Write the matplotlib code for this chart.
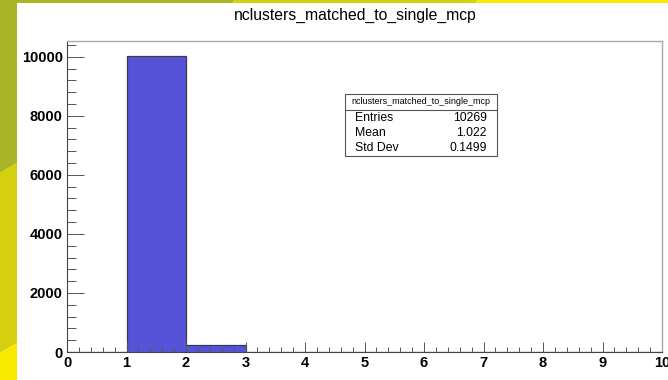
import numpy as np
import matplotlib.pyplot as plt
from matplotlib.patches import Polygon
from matplotlib.ticker import MultipleLocator

# histogram contents (10 bins from 0 to 10)
bin_edges = np.arange(0, 11)
counts = np.array([0, 10035, 234, 0, 0, 0, 0, 0, 0, 0])
hist_name = 'nclusters_matched_to_single_mcp'
stat_names = ['Entries', 'Mean', 'Std Dev']
stat_values = ['10269', '1.022', '0.1499']

plt.rcParams['font.family'] = ['Liberation Sans', 'DejaVu Sans']

fig = plt.figure(figsize=(6.68, 3.8), dpi=100)
W, H = 668.0, 380.0


def px(x, y):
    return (x / W, 1 - y / H)


# slide decoration strips on the left and top
olive, lime, yellow = '#a9b526', '#d4d00e', '#f9eb00'
for pts, c in [
    ([(0, 0), (17, 0), (17, 163), (0, 173)], olive),
    ([(0, 173), (17, 163), (17, 343), (0, 353)], lime),
    ([(0, 353), (17, 343), (17, 380), (0, 380)], yellow),
    ([(17, 0), (235, 0), (232, 3), (17, 3)], olive),
    ([(235, 0), (478, 0), (475, 3), (232, 3)], lime),
    ([(478, 0), (668, 0), (668, 3), (475, 3)], yellow),
]:
    fig.patches.append(Polygon([px(*p) for p in pts], closed=True,
                               transform=fig.transFigure, color=c, lw=0))

ax = fig.add_axes([67 / W, 1 - 352 / H, (662 - 67) / W, (352 - 40.5) / H])

ax.stairs(counts, bin_edges, fill=True, color='#5753d9')
ax.stairs(counts, bin_edges, color='#3a3a4a', lw=0.9)

ax.set_xlim(0, 10)
ax.set_ylim(0, 10550)
ax.xaxis.set_major_locator(MultipleLocator(1))
ax.xaxis.set_minor_locator(MultipleLocator(0.2))
ax.yaxis.set_major_locator(MultipleLocator(2000))
ax.yaxis.set_minor_locator(MultipleLocator(400))

ax.tick_params(axis='x', which='major', direction='in', length=7, width=0.7,
               color='#555555', pad=3, labelsize=10.5)
ax.tick_params(axis='x', which='minor', direction='in', length=3.6, width=0.7,
               color='#555555')
ax.tick_params(axis='y', which='major', direction='in', length=12, width=0.7,
               color='#555555', pad=3, labelsize=10.5)
ax.tick_params(axis='y', which='minor', direction='in', length=6.5, width=0.7,
               color='#555555')
for lab in ax.get_xticklabels() + ax.get_yticklabels():
    lab.set_fontweight('bold')

for side in ['left', 'bottom']:
    ax.spines[side].set_color('#444444')
    ax.spines[side].set_linewidth(0.8)
for side in ['top', 'right']:
    ax.spines[side].set_color('#aaaaaa')
    ax.spines[side].set_linewidth(1.0)

fig.text(355 / W, 1 - 15 / H, hist_name, ha='center', va='center', fontsize=11.3)

# statistics box
bx0, bx1, by0, by1, bsep = 345, 497, 94, 156, 110
fig.patches.append(plt.Rectangle(px(bx0, by1), (bx1 - bx0) / W, (by1 - by0) / H,
                                 transform=fig.transFigure, facecolor='white',
                                 edgecolor='#555555', lw=0.8))
fig.lines.append(plt.Line2D([bx0 / W, bx1 / W], [1 - bsep / H] * 2,
                            transform=fig.transFigure, color='#555555', lw=0.8))
fig.text((bx0 + bx1) / 2 / W, 1 - 102 / H, hist_name, ha='center', va='center',
         fontsize=6.5)
for i, (n, v) in enumerate(zip(stat_names, stat_values)):
    y = 118 + 15 * i
    fig.text(355 / W, 1 - y / H, n, ha='left', va='center', fontsize=8.8)
    fig.text(487 / W, 1 - y / H, v, ha='right', va='center', fontsize=8.8)

fig.savefig('out.png', dpi=100, facecolor='white')
